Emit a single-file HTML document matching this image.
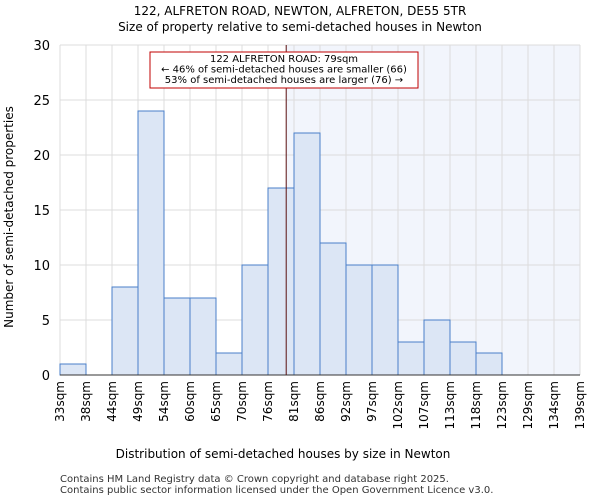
<!DOCTYPE html>
<html><head><meta charset="utf-8"><style>
body{margin:0;background:#fff;font-family:"DejaVu Sans","Liberation Sans",sans-serif;}
</style></head><body>
<svg id="chart" width="600" height="500" xmlns="http://www.w3.org/2000/svg" font-family="DejaVu Sans, Liberation Sans, sans-serif">
<text x="300" y="15" text-anchor="middle" font-size="12">122, ALFRETON ROAD, NEWTON, ALFRETON, DE55 5TR</text>
<text x="300" y="31" text-anchor="middle" font-size="12">Size of property relative to semi-detached houses in Newton</text>
<g id="plot"></g>
<text x="283" y="458" text-anchor="middle" font-size="12">Distribution of semi-detached houses by size in Newton</text>
<text transform="translate(13,217) rotate(-90)" text-anchor="middle" font-size="12">Number of semi-detached properties</text>
<text x="60" y="482" font-size="10" fill="#333">Contains HM Land Registry data © Crown copyright and database right 2025.</text>
<text x="60" y="493" font-size="10" fill="#333">Contains public sector information licensed under the Open Government Licence v3.0.</text>
</svg>
<script>
const categories=["33sqm","38sqm","44sqm","49sqm","54sqm","60sqm","65sqm","70sqm","76sqm","81sqm","86sqm","92sqm","97sqm","102sqm","107sqm","113sqm","118sqm","123sqm","129sqm","134sqm","139sqm"];
const counts=[1,0,8,24,7,7,2,10,17,22,12,10,10,3,5,3,2,0,0,0];
const yTicks=[0,5,10,15,20,25,30];
const markerBin=8.7;
const NS="http://www.w3.org/2000/svg";
const X0=60,X1=580,Y0=375,Y1=45,YMAX=30;
const bw=(X1-X0)/counts.length;
const xs=i=>X0+i*bw;
const ys=v=>Y0-(v/YMAX)*(Y0-Y1);
const g=document.getElementById('plot');
function mk(t,a){const e=document.createElementNS(NS,t);for(const k in a)e.setAttribute(k,a[k]);g.appendChild(e);return e;}
const mx=xs(markerBin);
const shade=mk('rect',{x:mx,y:Y1,width:X1-mx,height:Y0-Y1,fill:'#f2f5fc'});


for(let i=0;i<=counts.length;i++){const l=mk('line',{x1:xs(i),x2:xs(i),y1:Y1,y2:Y0,stroke:'#dcdcdc','stroke-width':1});

}
yTicks.forEach(v=>{const l=mk('line',{x1:X0,x2:X1,y1:ys(v),y2:ys(v),stroke:'#dcdcdc','stroke-width':1});


const t=mk('text',{x:X0-10,y:ys(v)+5,'text-anchor':'end','font-size':13});t.textContent=v;

});
counts.forEach((c,i)=>{if(c<=0)return;const r=mk('rect',{x:xs(i),y:ys(c),width:bw,height:Y0-ys(c),fill:'#dce6f5',stroke:'#4a7fc9','stroke-width':1});

});
categories.forEach((c,i)=>{const x=xs(i);const t=mk('text',{transform:`translate(${x+4},381) rotate(-90)`,'text-anchor':'end','font-size':12});t.textContent=c;

});
const ax=mk('line',{x1:X0,x2:X1,y1:Y0,y2:Y0,stroke:'#333','stroke-width':1});


const ml=mk('line',{x1:mx,x2:mx,y1:Y1,y2:Y0,stroke:'#5a1010','stroke-width':1});


const box=mk('rect',{x:150,y:52,width:268,height:36,fill:'#fff',stroke:'#c00000','stroke-width':1});


["122 ALFRETON ROAD: 79sqm","← 46% of semi-detached houses are smaller (66)","53% of semi-detached houses are larger (76) →"].forEach((s,k)=>{const t=mk('text',{x:284,y:62+k*10.5,'text-anchor':'middle','font-size':10});t.textContent=s;

});
</script>
</body></html>
